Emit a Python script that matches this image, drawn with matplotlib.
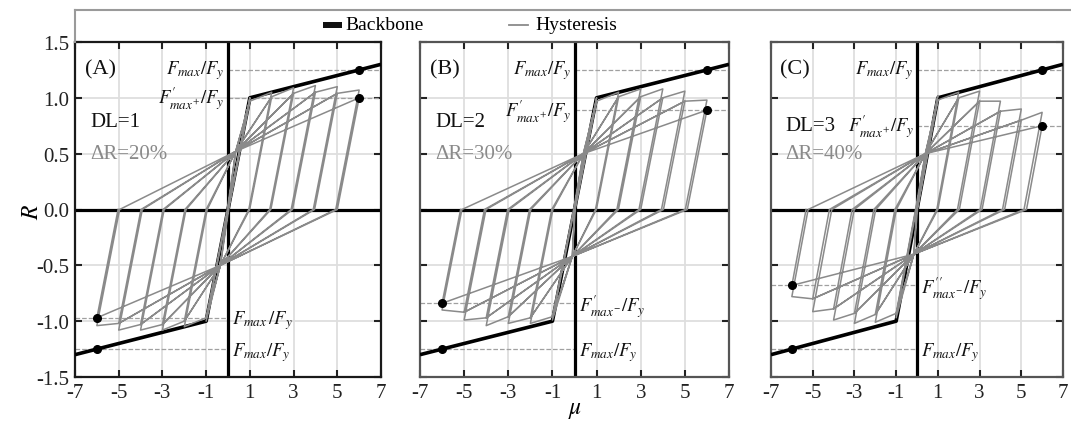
import matplotlib
matplotlib.use("Agg")
import matplotlib.pyplot as plt
from matplotlib.lines import Line2D
from matplotlib.patches import Rectangle

plt.rcParams["font.family"] = ["Liberation Serif", "DejaVu Serif"]
plt.rcParams["mathtext.fontset"] = "stix"

# ---------------- data ----------------
# backbone (mu, R)
backbone_mu = [-7.0, -1.0, 1.0, 7.0]
backbone_r = [-1.30, -1.0, 1.0, 1.30]
fmax = 1.25  # backbone strength at mu = +/-6
marker_mu = 6.0

amplitudes = [1, 2, 3, 4, 5, 6]

# panel A : DL=1, dR=20%
a_pos1 = [1.00, 1.05, 1.09, 1.11, 1.10, 1.07]
a_pos2 = [0.97, 1.01, 1.04, 1.05, 1.04, 1.00]
a_neg1 = [-1.00, -1.05, -1.08, -1.08, -1.08, -1.04]
a_neg2 = [-0.97, -1.00, -1.03, -1.03, -1.02, -0.97]
a_pinch_pos = (0.35, 0.52)
a_pinch_neg = (-0.35, -0.50)

# panel B : DL=2, dR=30%
b_pos1 = [1.00, 1.05, 1.08, 1.08, 1.06, 0.98]
b_pos2 = [0.97, 1.01, 1.01, 1.00, 0.97, 0.89]
b_neg1 = [-0.99, -1.02, -1.02, -1.04, -0.99, -0.90]
b_neg2 = [-0.96, -0.97, -0.96, -0.97, -0.92, -0.84]
b_pinch_pos = (0.40, 0.50)
b_pinch_neg = (-0.10, -0.42)

# panel C : DL=3, dR=40%
c_pos1 = [1.02, 1.05, 1.06, 0.97, 0.90, 0.87]
c_pos2 = [0.98, 1.00, 0.97, 0.88, 0.80, 0.75]
c_neg1 = [-0.97, -1.01, -1.02, -0.99, -0.915, -0.78]
c_neg2 = [-0.93, -0.94, -0.93, -0.89, -0.80, -0.68]
c_pinch_pos = (0.40, 0.50)
c_pinch_neg = (-0.15, -0.40)

panel_tags = ["(A)", "(B)", "(C)"]
dl_labels = ["DL=1", "DL=2", "DL=3"]
dr_labels = ["\u0394R=20%", "\u0394R=30%", "\u0394R=40%"]
pos_labels = [r"$F^{\prime}_{max^{+}}/F_y$", r"$F^{\prime}_{max^{+}}/F_y$", r"$F^{\prime}_{max^{+}}/F_y$"]
neg_labels = [r"$F_{max}\,/F_y$", r"$F^{\prime}_{max^{-}}/F_y$", r"$F^{\prime\prime}_{max^{-}}/F_y$"]

xticks = [-7, -5, -3, -1, 1, 3, 5, 7]
yticks = [-1.5, -1.0, -0.5, 0.0, 0.5, 1.0, 1.5]

HYST = "#8a8a8a"
GRID = "#dedede"


def loop_path(amps, pos1, pos2, neg1, neg2, pp, pn):
    """Pinched, peak-oriented cycles: two cycles per amplitude, elastic
    unloading with unit stiffness."""
    mu, r = [0.0], [0.0]
    for k, a in enumerate(amps):
        for cyc in (0, 1):
            tp = pos1[k] if cyc == 0 else pos2[k]
            tn = neg1[k] if cyc == 0 else neg2[k]
            if not (k == 0 and cyc == 0):
                mu.append(pp[0]); r.append(pp[1])
                if cyc == 0:
                    mu.append(amps[k - 1]); r.append(pos2[k - 1])
            mu.append(a); r.append(tp)
            mu.append(a - tp); r.append(0.0)
            mu.append(pn[0]); r.append(pn[1])
            if cyc == 0 and k > 0:
                mu.append(-amps[k - 1]); r.append(neg2[k - 1])
            mu.append(-a); r.append(tn)
            mu.append(-a - tn); r.append(0.0)
    return mu, r


panels = [
    (a_pos1, a_pos2, a_neg1, a_neg2, a_pinch_pos, a_pinch_neg),
    (b_pos1, b_pos2, b_neg1, b_neg2, b_pinch_pos, b_pinch_neg),
    (c_pos1, c_pos2, c_neg1, c_neg2, c_pinch_pos, c_pinch_neg),
]

W, H = 1071, 427
fig = plt.figure(figsize=(W / 100, H / 100), dpi=100)

lefts = [75, 420, 771]
widths = [306, 309, 292]
bottom_px, top_px = 378, 43
spine_cols = ["#1a1a1a", "#555555", "#555555"]
LBL = 13.5

for i, (p1, p2, n1, n2, pp, pn) in enumerate(panels):
    ax = fig.add_axes([lefts[i] / W, 1 - bottom_px / H, widths[i] / W, (bottom_px - top_px) / H])
    ax.set_xlim(-7, 7)
    ax.set_ylim(-1.5, 1.5)
    ax.set_xticks(xticks)
    ax.set_yticks(yticks)
    ax.grid(True, color=GRID, lw=1.3, zorder=0)
    ax.set_axisbelow(True)
    ax.tick_params(direction="in", length=5, width=1.5, top=True, right=True,
                   labelsize=15, colors="#222222", pad=4)
    ax.set_xticklabels([str(t) for t in xticks])
    if i == 0:
        ax.set_yticklabels([f"{t:.1f}" for t in yticks])
    else:
        ax.tick_params(labelleft=False)
    for s in ax.spines.values():
        s.set_color(spine_cols[i])
        s.set_linewidth(1.6)

    # reference levels
    ax.plot([0, 7], [fmax, fmax], ls="--", color="#a0a0a0", lw=0.9, zorder=1)
    ax.plot([0, 7], [p2[-1], p2[-1]], ls="--", color="#a0a0a0", lw=0.9, zorder=1)
    ax.plot([-7, 0], [n2[-1], n2[-1]], ls="--", color="#a0a0a0", lw=0.9, zorder=1)
    ax.plot([-7, 0], [-fmax, -fmax], ls="--", color="#a0a0a0", lw=0.9, zorder=1)

    # zero lines
    ax.axvline(0, color="black", lw=2.3, zorder=2)
    ax.axhline(0, color="black", lw=2.3, zorder=2)

    # backbone
    ax.plot(backbone_mu, backbone_r, color="black", lw=2.6, zorder=3,
            solid_capstyle="butt")

    # hysteresis
    mu, r = loop_path(amplitudes, p1, p2, n1, n2, pp, pn)
    ax.plot(mu, r, color=HYST, lw=1.1, zorder=4)

    # characteristic points
    ax.plot([marker_mu, -marker_mu], [fmax, -fmax], "o", color="black", ms=5.5, zorder=5)
    ax.plot([marker_mu, -marker_mu], [p2[-1], n2[-1]], "o", color="black", ms=5.5, zorder=5)

    # annotations
    ax.text(-6.55, 1.26, panel_tags[i], fontsize=16, va="center", ha="left", color="#111111")
    dl_y = 0.79 if i < 2 else 0.75
    ax.text(-6.3, dl_y, dl_labels[i], fontsize=15, va="center", ha="left", color="#111111")
    ax.text(-6.3, 0.50, dr_labels[i], fontsize=15, va="center", ha="left", color=HYST)
    ax.text(-0.15, fmax, r"$F_{max}/F_y$", fontsize=LBL, va="center", ha="right", color="#111111")
    ax.text(-0.15, p2[-1], pos_labels[i], fontsize=LBL, va="center", ha="right", color="#111111")
    ax.text(0.2, n2[-1] - 0.02, neg_labels[i], fontsize=LBL, va="center", ha="left", color="#111111")
    ax.text(0.2, -fmax - 0.02, r"$F_{max}/F_y$", fontsize=LBL, va="center", ha="left", color="#111111")

# axis titles
fig.text(32 / W, 1 - 212 / H, r"$R$", fontsize=17, rotation=90, ha="center", va="center")
fig.text(575 / W, 1 - 411 / H, r"$\mu$", fontsize=17, ha="center", va="center")

# legend frame and entries
fig.add_artist(Line2D([75 / W, 1.0], [1 - 11 / H, 1 - 11 / H], transform=fig.transFigure,
                      color="#9a9a9a", lw=1.5))
fig.add_artist(Line2D([75 / W, 75 / W], [1 - 11 / H, 1 - 43 / H], transform=fig.transFigure,
                      color="#9a9a9a", lw=1.5))
fig.add_artist(Rectangle((323 / W, 1 - 29 / H), 19 / W, 6 / H, transform=fig.transFigure,
                         facecolor="#111111", edgecolor="none"))
fig.text(345 / W, 1 - 26 / H, "Backbone", fontsize=14, ha="left", va="center")
fig.add_artist(Line2D([509 / W, 528 / W], [1 - 26 / H, 1 - 26 / H], transform=fig.transFigure,
                      color=HYST, lw=1.3))
fig.text(535 / W, 1 - 26 / H, "Hysteresis", fontsize=14, ha="left", va="center")

fig.savefig("out.png", dpi=100)
